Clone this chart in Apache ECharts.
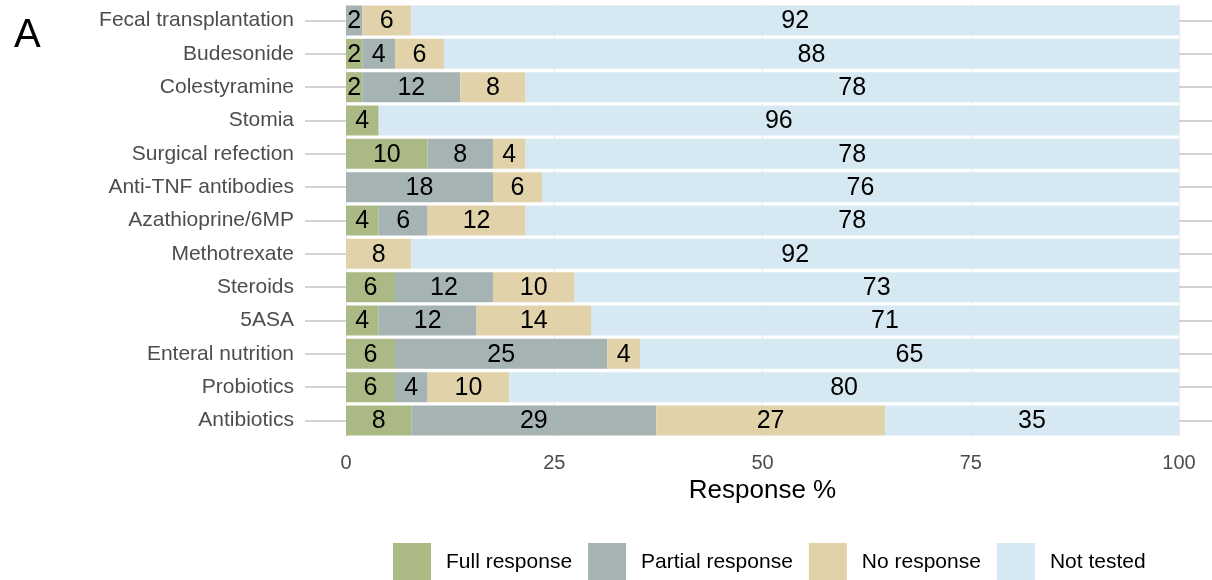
<!DOCTYPE html>
<html>
<head>
<meta charset="utf-8">
<script src="https://cdn.jsdelivr.net/npm/echarts@6/dist/echarts.min.js"></script>
<style>html,body{margin:0;padding:0;background:#fff}#c{width:1212px;height:580px}</style>
</head>
<body>
<div id="c"></div>
<script>
var categories = ["Fecal transplantation","Budesonide","Colestyramine","Stomia","Surgical refection","Anti-TNF antibodies","Azathioprine/6MP","Methotrexate","Steroids","5ASA","Enteral nutrition","Probiotics","Antibiotics"];
var fullResponse    = [0,    1.96, 1.96, 3.92, 9.80, 0,     3.92, 0,    5.88,  3.92,  5.88,  5.88,  7.84];
var partialResponse = [1.96, 3.92, 11.76,0,    7.84, 17.65, 5.88, 0,    11.76, 11.76, 25.49, 3.92,  29.41];
var noResponse      = [5.88, 5.88, 7.84, 0,    3.92, 5.88,  11.76,7.84, 9.80,  13.73, 3.92,  9.80,  27.45];
var notTested       = [92.16,88.24,78.43,96.08,78.43,76.47, 78.43,92.16,72.55, 70.59, 64.71, 80.39, 35.29];
var seriesNames = ["Full response","Partial response","No response","Not tested"];
var colors = ["#abba84","#a6b3b3","#e1d2aa","#d6e9f3"];
var xTicks = [0,25,50,75,100];

var FONT = "'Liberation Sans', Arial, sans-serif";
var chart = echarts.init(document.getElementById('c'), null, {renderer:'canvas'});
var data = [fullResponse, partialResponse, noResponse, notTested];
var series = data.map(function(d, i){
  return {
    name: seriesNames[i], type: 'bar', stack: 'all', data: d, barWidth: '90%',
    itemStyle: {color: colors[i]},
    label: {show: true, position: 'inside', color: '#000', fontSize: 25, fontFamily: FONT, offset: [0, 1],
      formatter: function(p){ var v = Math.round(p.value); return v === 0 ? '' : String(v); }},
    emphasis: {disabled: true}
  };
});
chart.setOption({
  animation: false,
  textStyle: {fontFamily: FONT},
  color: colors,
  graphic: [{type:'text', left: 14, top: 16, style:{text:'A', fontSize: 40, fontFamily: FONT, fill:'#000'}}],
  grid: {left: 346, width: 833, top: 3.83, height: 433.33, containLabel: false},
  legend: {
    data: seriesNames, left: 393, top: 543, padding: 0, itemWidth: 38, itemHeight: 38, itemGap: 16,
    icon: 'rect', textStyle: {fontSize: 21, color: '#000', fontFamily: FONT, padding: [2,0,0,10]}
  },
  xAxis: {
    type: 'value', min: 0, max: 100, interval: 25,
    axisLine: {show: false}, axisTick: {show: false},
    axisLabel: {color: '#4d4d4d', fontSize: 20, margin: 16, fontFamily: FONT,
      formatter: function(v){ return xTicks.indexOf(v) >= 0 ? String(v) : ''; }},
    splitLine: {show: true, lineStyle: {color: '#ebebeb', width: 1}},
    name: 'Response %', nameLocation: 'middle', nameGap: 39,
    nameTextStyle: {fontSize: 26, color: '#000', fontFamily: FONT, verticalAlign: 'top'}
  },
  yAxis: [{
    type: 'category', data: categories, inverse: true,
    axisLine: {show: false},
    axisTick: {show: true, alignWithLabel: true, length: 41, interval: 0, lineStyle: {color: '#c4c4c4', width: 1.5}},
    axisLabel: {color: '#4d4d4d', fontSize: 21, margin: 52, interval: 0, fontFamily: FONT, padding: [2,0,0,0]},
    splitLine: {show: false}
  }, {
    type: 'category', data: categories, inverse: true, position: 'right',
    axisLine: {show: false},
    axisTick: {show: true, alignWithLabel: true, length: 42, interval: 0, lineStyle: {color: '#c4c4c4', width: 1.5}},
    axisLabel: {show: false}, splitLine: {show: false}
  }],
  series: series
});
</script>
</body>
</html>
